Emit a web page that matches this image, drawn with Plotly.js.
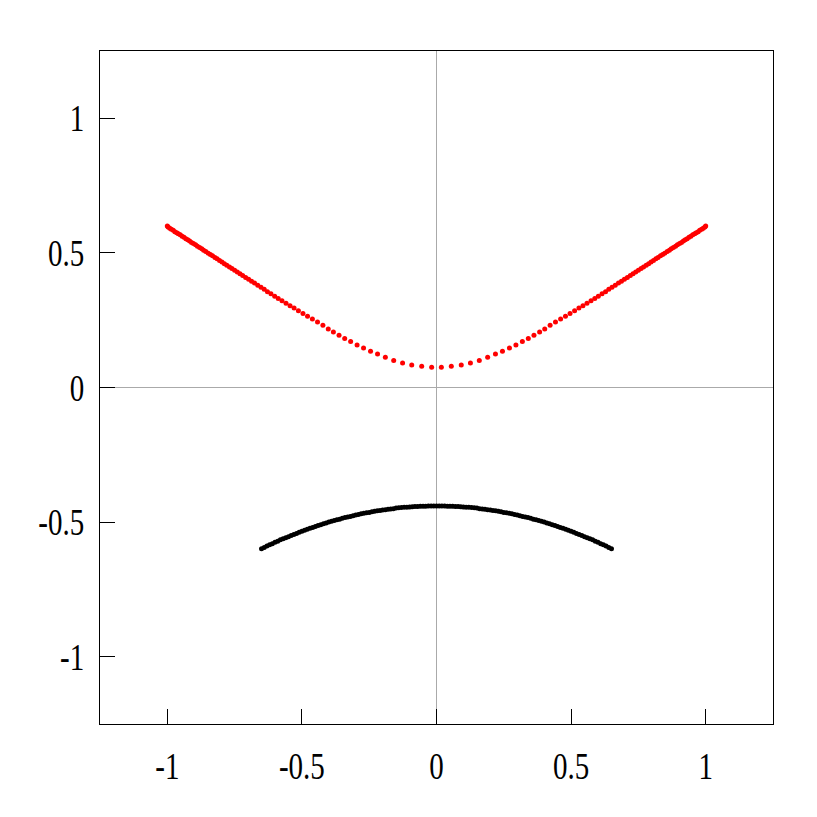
<!DOCTYPE html>
<html>
<head>
<meta charset="utf-8">
<script src="https://cdn.plot.ly/plotly-3.0.1.min.js"></script>
<style>html,body{margin:0;padding:0;background:#fff;}#chart{width:817px;height:817px;}</style>
</head>
<body>
<div id="chart"></div>
<script>
// Red curve (upper branch)
const redX = [-1.000,-0.997,-0.991,-0.985,-0.978,-0.972,-0.965,-0.959,-0.952,-0.945,-0.938,-0.931,-0.924,-0.917,-0.910,-0.903,-0.895,-0.888,-0.880,-0.872,-0.865,-0.857,-0.848,-0.840,-0.832,-0.823,-0.815,-0.806,-0.797,-0.788,-0.779,-0.769,-0.760,-0.750,-0.740,-0.730,-0.720,-0.709,-0.698,-0.687,-0.676,-0.664,-0.652,-0.640,-0.628,-0.615,-0.601,-0.588,-0.574,-0.559,-0.544,-0.529,-0.513,-0.496,-0.479,-0.461,-0.442,-0.422,-0.402,-0.383,-0.362,-0.341,-0.319,-0.295,-0.271,-0.245,-0.219,-0.190,-0.159,-0.126,-0.092,-0.055,-0.018,
  0.018,0.055,0.092,0.126,0.159,0.190,0.219,0.245,0.271,0.295,0.319,0.341,0.362,0.383,0.402,0.422,0.442,0.461,0.479,0.496,0.513,0.529,0.544,0.559,0.574,0.588,0.601,0.615,0.628,0.640,0.652,0.664,0.676,0.687,0.698,0.709,0.720,0.730,0.740,0.750,0.760,0.769,0.779,0.788,0.797,0.806,0.815,0.823,0.832,0.840,0.848,0.857,0.865,0.872,0.880,0.888,0.895,0.903,0.910,0.917,0.924,0.931,0.938,0.945,0.952,0.959,0.965,0.972,0.978,0.985,0.991,0.997,1.000];
const redY = [0.600,0.596,0.592,0.588,0.584,0.579,0.575,0.571,0.567,0.562,0.558,0.553,0.549,0.544,0.539,0.535,0.530,0.525,0.520,0.515,0.510,0.505,0.499,0.494,0.489,0.483,0.478,0.472,0.466,0.460,0.454,0.448,0.442,0.436,0.429,0.423,0.416,0.409,0.402,0.395,0.388,0.380,0.372,0.365,0.356,0.348,0.339,0.331,0.322,0.313,0.304,0.295,0.285,0.275,0.265,0.254,0.243,0.231,0.217,0.206,0.194,0.182,0.171,0.158,0.147,0.135,0.124,0.112,0.100,0.091,0.084,0.079,0.075,
  0.075,0.079,0.084,0.091,0.100,0.112,0.124,0.135,0.147,0.158,0.171,0.182,0.194,0.206,0.217,0.231,0.243,0.254,0.265,0.275,0.285,0.295,0.304,0.313,0.322,0.331,0.339,0.348,0.356,0.365,0.372,0.380,0.388,0.395,0.402,0.409,0.416,0.423,0.429,0.436,0.442,0.448,0.454,0.460,0.466,0.472,0.478,0.483,0.489,0.494,0.499,0.505,0.510,0.515,0.520,0.525,0.530,0.535,0.539,0.544,0.549,0.553,0.558,0.562,0.567,0.571,0.575,0.579,0.584,0.588,0.592,0.596,0.600];

// Black curve (lower branch)
const blackX = [-0.65,-0.64,-0.63,-0.62,-0.61,-0.60,-0.59,-0.58,-0.57,-0.56,-0.55,-0.54,-0.53,-0.52,-0.51,-0.50,-0.49,-0.48,-0.47,-0.46,-0.45,-0.44,-0.43,-0.42,-0.41,-0.40,-0.39,-0.38,-0.37,-0.36,-0.35,-0.34,-0.33,-0.32,-0.31,-0.30,-0.29,-0.28,-0.27,-0.26,-0.25,-0.24,-0.23,-0.22,-0.21,-0.20,-0.19,-0.18,-0.17,-0.16,-0.15,-0.14,-0.13,-0.12,-0.11,-0.10,-0.09,-0.08,-0.07,-0.06,-0.05,-0.04,-0.03,-0.02,-0.01,
  0.00,0.01,0.02,0.03,0.04,0.05,0.06,0.07,0.08,0.09,0.10,0.11,0.12,0.13,0.14,0.15,0.16,0.17,0.18,0.19,0.20,0.21,0.22,0.23,0.24,0.25,0.26,0.27,0.28,0.29,0.30,0.31,0.32,0.33,0.34,0.35,0.36,0.37,0.38,0.39,0.40,0.41,0.42,0.43,0.44,0.45,0.46,0.47,0.48,0.49,0.50,0.51,0.52,0.53,0.54,0.55,0.56,0.57,0.58,0.59,0.60,0.61,0.62,0.63,0.64,0.65];
const blackY = [-0.599,-0.594,-0.589,-0.584,-0.580,-0.575,-0.571,-0.566,-0.562,-0.558,-0.554,-0.550,-0.546,-0.542,-0.538,-0.534,-0.530,-0.527,-0.523,-0.520,-0.516,-0.513,-0.510,-0.506,-0.503,-0.500,-0.497,-0.494,-0.491,-0.489,-0.486,-0.483,-0.481,-0.479,-0.476,-0.474,-0.472,-0.469,-0.467,-0.465,-0.464,-0.462,-0.460,-0.458,-0.457,-0.455,-0.454,-0.452,-0.451,-0.450,-0.448,-0.447,-0.446,-0.445,-0.445,-0.444,-0.443,-0.442,-0.442,-0.441,-0.441,-0.441,-0.440,-0.440,-0.440,
  -0.440,-0.440,-0.440,-0.440,-0.441,-0.441,-0.441,-0.442,-0.442,-0.443,-0.444,-0.445,-0.445,-0.446,-0.447,-0.448,-0.450,-0.451,-0.452,-0.454,-0.455,-0.457,-0.458,-0.460,-0.462,-0.464,-0.465,-0.467,-0.469,-0.472,-0.474,-0.476,-0.479,-0.481,-0.483,-0.486,-0.489,-0.491,-0.494,-0.497,-0.500,-0.503,-0.506,-0.510,-0.513,-0.516,-0.520,-0.523,-0.527,-0.530,-0.534,-0.538,-0.542,-0.546,-0.550,-0.554,-0.558,-0.562,-0.566,-0.571,-0.575,-0.580,-0.584,-0.589,-0.594,-0.599];

const tickVals = [-1, -0.5, 0, 0.5, 1];
const tickText = ['-1', '-0.5', '0', '0.5', '1'];

const traces = [
  {x: blackX, y: blackY, type: 'scatter', mode: 'markers', marker: {color: '#000000', size: 5}, hoverinfo: 'skip'},
  {x: redX, y: redY, type: 'scatter', mode: 'markers', marker: {color: '#ff0000', size: 5}, hoverinfo: 'skip'}
];

const axisCommon = {
  range: [-1.25, 1.25],
  tickvals: tickVals,
  ticktext: tickText,
  ticks: 'inside',
  ticklen: 15,
  tickwidth: 1,
  tickcolor: '#000',
  showline: true,
  linecolor: '#000',
  linewidth: 1,
  mirror: true,
  showgrid: false,
  zeroline: true,
  zerolinecolor: '#aaaaaa',
  zerolinewidth: 1,
  tickfont: {family: 'Liberation Serif, Times New Roman, serif', size: 29, color: '#000'},
  fixedrange: true
};

const layout = {
  width: 817,
  height: 817,
  margin: {l: 100, r: 44, t: 51, b: 93, pad: 0},
  paper_bgcolor: '#ffffff',
  plot_bgcolor: '#ffffff',
  showlegend: false,
  xaxis: Object.assign({}, axisCommon, {ticklabelstandoff: 16}),
  yaxis: Object.assign({}, axisCommon, {ticklabelstandoff: 9})
};

Plotly.newPlot('chart', traces, layout, {staticPlot: true, displayModeBar: false}).then(function (gd) {
  // The reference uses tall, narrow tick digits: stretch labels vertically about their centres.
  gd.querySelectorAll('.xtick text, .ytick text').forEach(function (t) {
    const b = t.getBBox();
    const cx = b.x + b.width / 2, cy = b.y + b.height / 2;
    const prev = t.getAttribute('transform') || '';
    t.setAttribute('transform', prev + ' translate(' + cx + ',' + cy + ') scale(1,1.3) translate(' + (-cx) + ',' + (-cy) + ')');
  });
});
</script>
</body>
</html>
